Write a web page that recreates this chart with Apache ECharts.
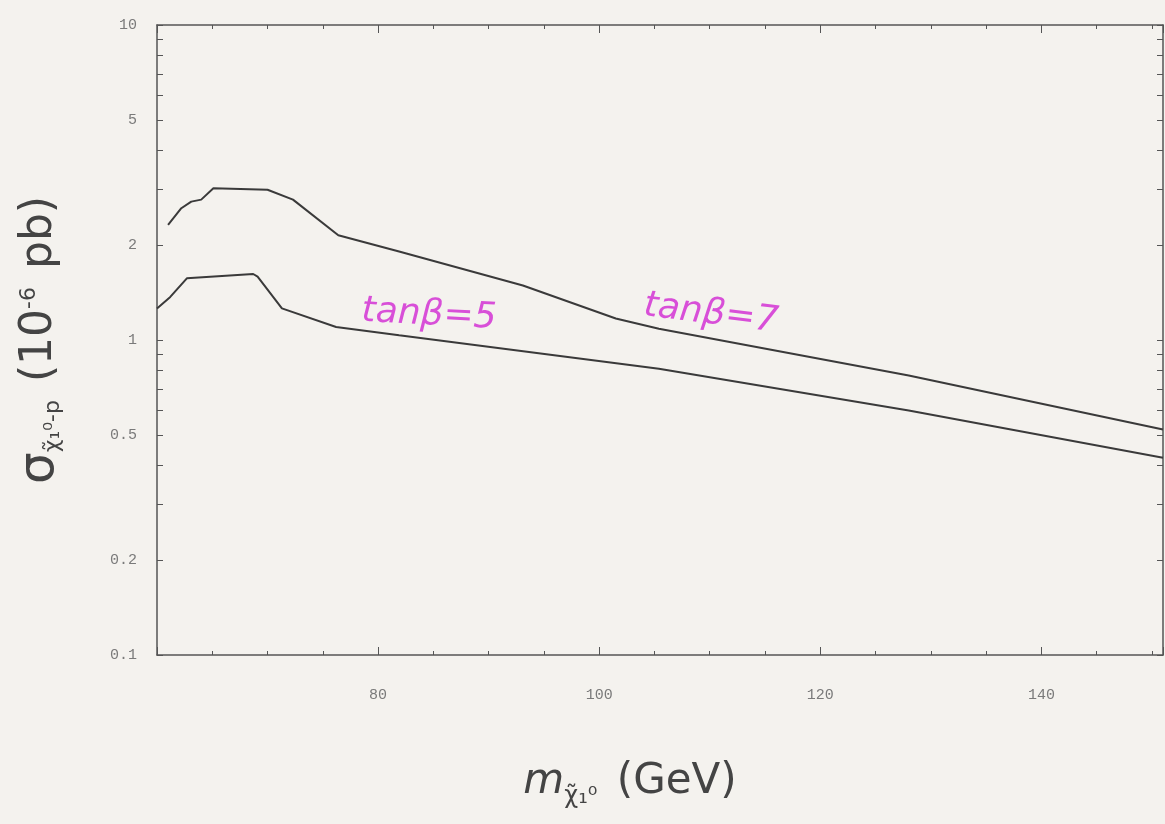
<!DOCTYPE html>
<html>
<head>
<meta charset="utf-8">
<script src="https://cdn.jsdelivr.net/npm/echarts@6/dist/echarts.min.js"></script>
<style>
  html, body { margin: 0; padding: 0; background: #f4f2ee; }
  #chart { width: 1165px; height: 824px; }
</style>
</head>
<body>
<div id="chart"></div>
<script>
// ---- data ----
const massUpper  = [61.0, 62.2, 63.1, 64.0, 65.1, 70.0, 72.3, 76.4, 81.9, 93.1, 101.5, 105.4, 128.0, 151.0];
const sigmaUpper = [2.32, 2.62, 2.75, 2.79, 3.03, 3.00, 2.79, 2.15, 1.91, 1.49, 1.17, 1.086, 0.772, 0.52];

const massLower  = [60.0, 61.2, 62.7, 68.7, 69.1, 71.3, 76.2, 81.9, 105.4, 128.0, 151.0];
const sigmaLower = [1.26, 1.37, 1.57, 1.62, 1.59, 1.26, 1.10, 1.035, 0.81, 0.597, 0.423];

const xTickLabels = [80, 100, 120, 140];
const yTickLabels = [0.1, 0.2, 0.5, 1, 2, 5, 10];
const yMinorTicks = [0.1, 0.2, 0.3, 0.4, 0.5, 0.6, 0.7, 0.8, 0.9, 1, 2, 3, 4, 5, 6, 7, 8, 9, 10];

// annotation positions in data units
const noteLower = { text: 'tanβ=5', x: 84.6, y: 1.20 };
const noteUpper = { text: 'tanβ=7', x: 110.1, y: 1.21 };

const zip = (xs, ys) => xs.map((x, i) => [x, ys[i]]);

const lineColor = '#3a3a3a';
const axisColor = '#555';
const labelStyle = { color: '#7a7a7a', fontFamily: 'Liberation Mono, DejaVu Sans Mono, monospace', fontSize: 15 };

const chart = echarts.init(document.getElementById('chart'), null, { renderer: 'canvas' });

const noteLabel = (rot) => ({
  show: true,
  color: '#d84fd8',
  fontSize: 36,
  fontStyle: 'italic',
  fontFamily: 'DejaVu Sans, sans-serif',
  rotate: rot,
  formatter: '{b}'
});

chart.setOption({
  backgroundColor: '#f4f2ee',
  animation: false,
  grid: { left: 157, right: 2, top: 25, bottom: 169, containLabel: false },
  xAxis: [
    {
      type: 'value', min: 60, max: 151, interval: 20,
      axisLine: { show: true, lineStyle: { color: axisColor, width: 1.5 } },
      axisTick: { show: true, inside: true, length: 8, lineStyle: { color: axisColor } },
      minorTick: { show: true, splitNumber: 4, length: 4, lineStyle: { color: axisColor } },
      splitLine: { show: false },
      axisLabel: Object.assign({ margin: 33, customValues: xTickLabels }, labelStyle),
      name: '{m|m}{sub|χ̃₁⁰} (GeV)',
      nameLocation: 'middle',
      nameGap: 100,
      nameTextStyle: {
        color: '#444',
        fontFamily: 'DejaVu Sans, sans-serif',
        fontSize: 42,
        padding: [0, 60, 0, 0],
        rich: {
          m: { fontSize: 42, fontStyle: 'italic', color: '#444', fontFamily: 'DejaVu Sans, sans-serif' },
          sub: { fontSize: 24, color: '#444', padding: [30, 6, 0, 0], fontFamily: 'DejaVu Sans, sans-serif' }
        }
      }
    },
    {
      type: 'value', min: 60, max: 151, interval: 20, position: 'top',
      axisLine: { show: true, lineStyle: { color: axisColor, width: 1.5 } },
      axisTick: { show: true, inside: true, length: 8, lineStyle: { color: axisColor } },
      minorTick: { show: true, splitNumber: 4, length: 4, lineStyle: { color: axisColor } },
      splitLine: { show: false },
      axisLabel: { show: false }
    }
  ],
  yAxis: [
    {
      type: 'log', logBase: 10, min: 0.1, max: 10,
      axisLine: { show: true, lineStyle: { color: axisColor, width: 1.5 } },
      axisTick: { show: true, inside: true, length: 6, customValues: yMinorTicks, lineStyle: { color: axisColor } },
      splitLine: { show: false },
      axisLabel: Object.assign({ margin: 20, customValues: yTickLabels, formatter: v => String(v) }, labelStyle),
      name: '{sig|σ}{sub|χ̃₁⁰-p} (10{sup|-6} pb)',
      nameLocation: 'middle',
      nameRotate: 90,
      nameGap: 92,
      nameTextStyle: {
        color: '#444',
        fontFamily: 'DejaVu Sans, sans-serif',
        fontSize: 44,
        rich: {
          sig: { fontSize: 50, color: '#444', fontFamily: 'DejaVu Sans, sans-serif' },
          sub: { fontSize: 22, color: '#444', padding: [26, 4, 0, 0], fontFamily: 'DejaVu Sans, sans-serif' },
          sup: { fontSize: 22, color: '#444', padding: [0, 4, 22, 0], fontFamily: 'DejaVu Sans, sans-serif' }
        }
      }
    },
    {
      type: 'log', logBase: 10, min: 0.1, max: 10, position: 'right',
      axisLine: { show: true, lineStyle: { color: axisColor, width: 1.5 } },
      axisTick: { show: true, inside: true, length: 6, customValues: yMinorTicks, lineStyle: { color: axisColor } },
      splitLine: { show: false },
      axisLabel: { show: false }
    }
  ],
  series: [
    {
      name: 'tanβ=7',
      type: 'line',
      data: zip(massUpper, sigmaUpper),
      showSymbol: false,
      lineStyle: { color: lineColor, width: 2 },
      markPoint: {
        symbol: 'circle', symbolSize: 0,
        label: noteLabel(-7),
        data: [{ name: noteUpper.text, coord: [noteUpper.x, noteUpper.y] }]
      }
    },
    {
      name: 'tanβ=5',
      type: 'line',
      data: zip(massLower, sigmaLower),
      showSymbol: false,
      lineStyle: { color: lineColor, width: 2 },
      markPoint: {
        symbol: 'circle', symbolSize: 0,
        label: noteLabel(-3),
        data: [{ name: noteLower.text, coord: [noteLower.x, noteLower.y] }]
      }
    }
  ]
});
</script>
</body>
</html>
